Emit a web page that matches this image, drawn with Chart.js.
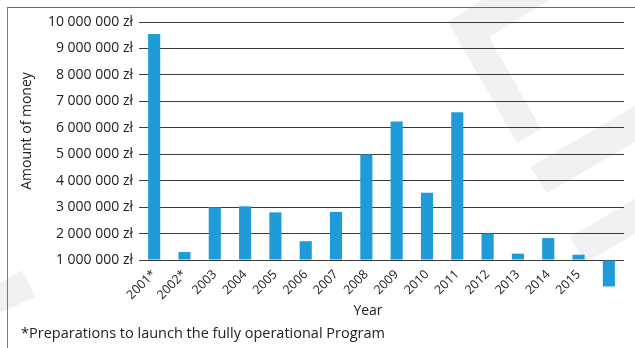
<!DOCTYPE html>
<html>
<head>
<meta charset="utf-8">
<script src="https://cdn.jsdelivr.net/npm/chart.js@4.4.1/dist/chart.umd.min.js"></script>
<style>
  html, body { margin: 0; padding: 0; background: #fff; }
  #wrap { position: relative; width: 635px; height: 348px; overflow: hidden; }
  #myChart { position: absolute; left: 0; top: 0; }
  #frame {
    position: absolute; left: 7px; top: 7px; width: 640px; height: 360px;
    border-top: 1px solid #6a6a6a; border-left: 1px solid #7a7a7a;
  }
  #note {
    position: absolute; left: 21px; top: 323px;
    font: 14.5px "Open Sans", sans-serif; color: #222; white-space: nowrap;
  }
</style>
</head>
<body>
<div id="wrap">
  <canvas id="myChart" width="635" height="348"></canvas>
  <div id="frame"></div>
  <div id="note">*Preparations to launch the fully operational Program</div>
</div>
<script>
// yearly amounts (zł)
const years = ['2001*', '2002*', '2003', '2004', '2005', '2006', '2007', '2008',
  '2009', '2010', '2011', '2012', '2013', '2014', '2015', ''];
const amounts = [9550000, 1300000, 2990000, 3030000, 2800000, 1710000, 2820000, 4990000,
  6240000, 3540000, 6590000, 2000000, 1240000, 1830000, 1200000, 0];
const yMin = 1000000;
const yMax = 10000000;
const yStep = 1000000;

const fontFamily = '"Open Sans", sans-serif';

function formatZl(v) {
  return String(v).replace(/\B(?=(\d{3})+(?!\d))/g, ' ') + ' zł';
}

// light grey stripes in the background
const watermark = {
  id: 'watermark',
  beforeDraw(chart) {
    const ctx = chart.ctx;
    const shapes = [
      [[482, 0], [448, 22], [517, 143], [541, 129], [489, 37], [550, 0]],
      [[530, 167], [547, 193], [635, 142], [635, 106]],
      [[570, 237], [585, 263], [635, 234], [635, 199]],
      [[22, 270], [35, 297], [0, 313], [0, 283]]
    ];
    ctx.save();
    ctx.fillStyle = '#f1f1f1';
    shapes.forEach(s => {
      ctx.beginPath();
      s.forEach((p, i) => i ? ctx.lineTo(p[0], p[1]) : ctx.moveTo(p[0], p[1]));
      ctx.closePath();
      ctx.fill();
    });
    ctx.restore();
  }
};

// axis titles
const axisTitles = {
  id: 'axisTitles',
  afterDraw(chart) {
    const ctx = chart.ctx;
    ctx.save();
    ctx.fillStyle = '#222';
    ctx.font = '14px ' + fontFamily;
    ctx.textAlign = 'center';
    ctx.textBaseline = 'middle';
    ctx.fillText('Year', 368, 311);
    ctx.translate(27, 131);
    ctx.rotate(-Math.PI / 2);
    ctx.fillText('Amount of money', 0, 0);
    ctx.restore();
  }
};

const ctx = document.getElementById('myChart').getContext('2d');
new Chart(ctx, {
  type: 'bar',
  data: {
    labels: years,
    datasets: [{
      data: amounts,
      base: yMin,
      clip: false,
      backgroundColor: '#1f9cd8',
      borderWidth: 0,
      barPercentage: 0.4,
      categoryPercentage: 1.0
    }]
  },
  options: {
    responsive: false,
    animation: false,
    layout: { padding: { top: 22, right: 11, left: 0, bottom: 0 } },
    plugins: { legend: { display: false }, tooltip: { enabled: false } },
    scales: {
      x: {
        grid: { display: false, drawTicks: false },
        border: { display: false },
        ticks: {
          autoSkip: false,
          maxRotation: 45,
          minRotation: 45,
          padding: 7,
          color: '#222',
          font: { family: fontFamily, size: 12.5 }
        },
        afterFit: s => { s.height = 88; }
      },
      y: {
        min: yMin,
        max: yMax,
        grid: { color: '#3a3a3a', lineWidth: 1, drawTicks: false },
        border: { display: false },
        ticks: {
          stepSize: yStep,
          padding: 6,
          color: '#222',
          font: { family: fontFamily, size: 14 },
          callback: v => formatZl(v)
        },
        afterFit: s => { s.width = 139; }
      }
    }
  },
  plugins: [watermark, axisTitles]
});
</script>
</body>
</html>
